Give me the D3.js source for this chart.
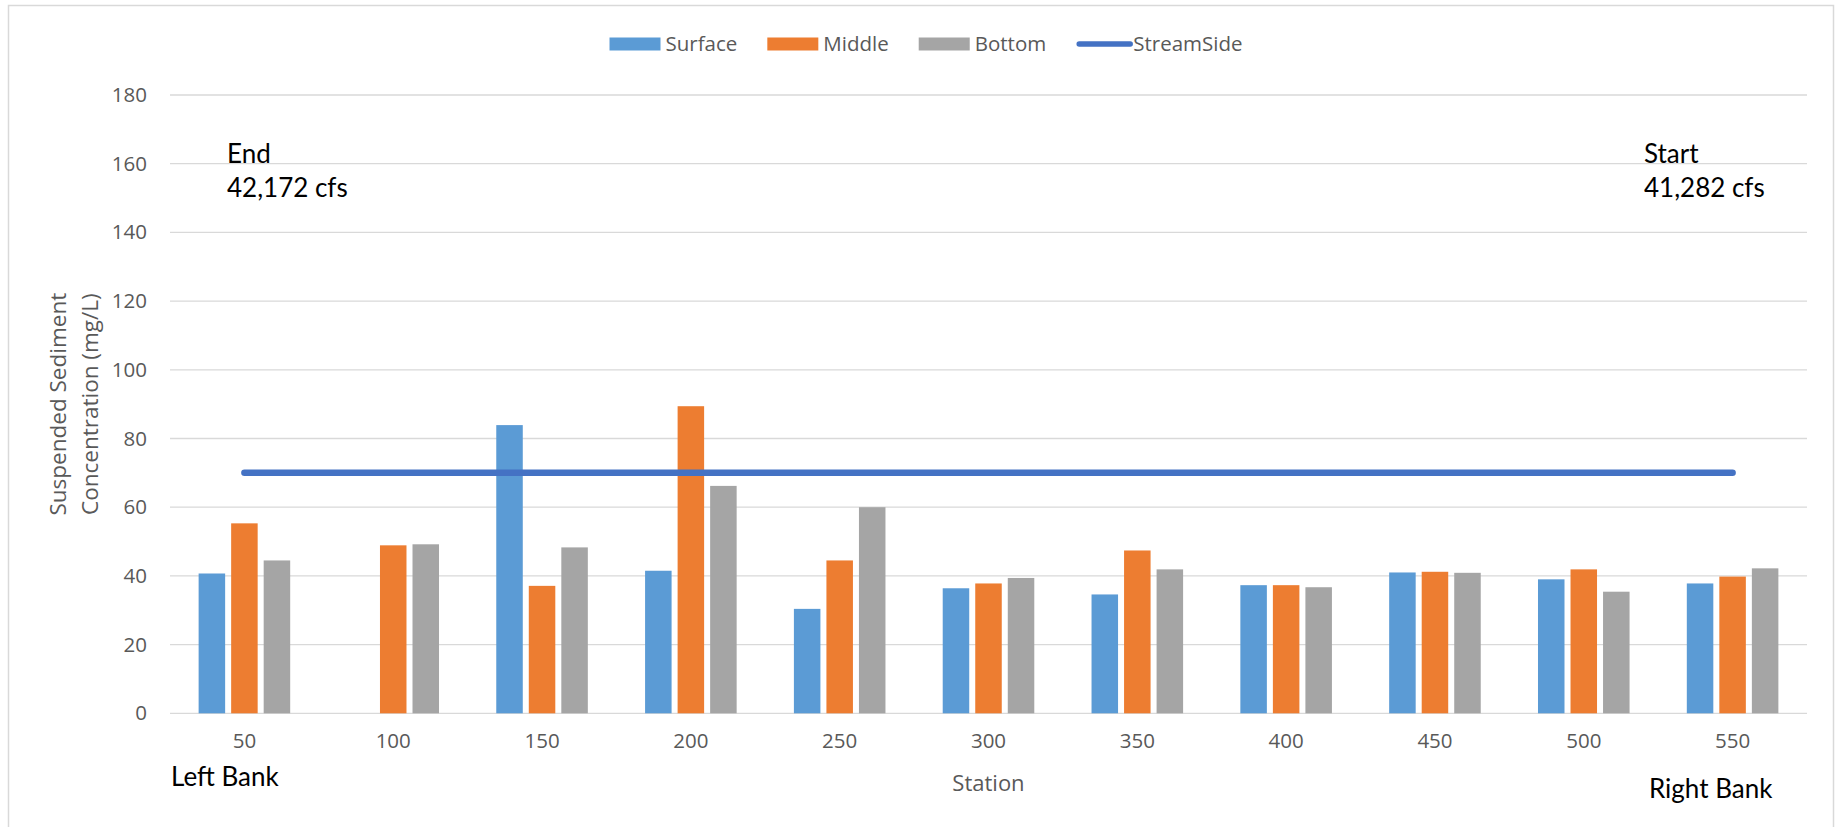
<!DOCTYPE html>
<html>
<head>
<meta charset="utf-8">
<script src="https://cdn.jsdelivr.net/npm/d3@7"></script>
<style>
  html, body { margin: 0; padding: 0; background: #fff; }
  svg { display: block; }
</style>
</head>
<body>
<div id="chart"></div>
<script>
// data
const stations = ["50", "100", "150", "200", "250", "300", "350", "400", "450", "500", "550"];
const seriesNames = ["Surface", "Middle", "Bottom"];
const surface = [40.7, null, 83.9, 41.5, 30.4, 36.4, 34.6, 37.3, 41.0, 39.0, 37.8];
const middle  = [55.3, 48.9, 37.1, 89.4, 44.5, 37.8, 47.4, 37.3, 41.2, 41.9, 39.8];
const bottom  = [44.5, 49.2, 48.3, 66.2, 60.0, 39.4, 41.9, 36.7, 40.9, 35.4, 42.2];
const streamSide = [70, 70, 70, 70, 70, 70, 70, 70, 70, 70, 70];
const yTicks = [0, 20, 40, 60, 80, 100, 120, 140, 160, 180];

const colors = { Surface: "#5B9BD5", Middle: "#ED7D31", Bottom: "#A5A5A5", StreamSide: "#4472C4" };

const width = 1843, height = 827;
const plot = { left: 170, right: 1807, top: 95, bottom: 713.3 };
const uiFont = "'Open Sans', 'Noto Sans', sans-serif";
const calFont = "Lato, 'Open Sans', sans-serif";

const svg = d3.select("#chart").append("svg")
  .attr("width", width)
  .attr("height", height);

// chart border
svg.append("rect")
  .attr("x", 8.5).attr("y", 5.5)
  .attr("width", 1825).attr("height", 840)
  .attr("fill", "#fff")
  .attr("stroke", "#d9d9d9")
  .attr("stroke-width", 1.5);

// scales
const x0 = d3.scaleBand()
  .domain(stations)
  .range([plot.left, plot.right])
  .paddingInner(0).paddingOuter(0);

const x1 = d3.scaleBand()
  .domain(seriesNames)
  .range([0, x0.bandwidth()])
  .paddingInner(0.185)
  .paddingOuter(0.88);

const y = d3.scaleLinear()
  .domain([0, 180])
  .range([plot.bottom, plot.top]);

// gridlines
svg.append("g")
  .selectAll("line")
  .data(yTicks)
  .join("line")
    .attr("x1", plot.left).attr("x2", plot.right)
    .attr("y1", d => y(d)).attr("y2", d => y(d))
    .attr("stroke", "#d9d9d9")
    .attr("stroke-width", 1.3);

// y axis labels
const yAxis = svg.append("g")
  .attr("transform", `translate(${plot.left},0)`)
  .call(d3.axisLeft(y).tickValues(yTicks).tickSize(0).tickPadding(23));
yAxis.select(".domain").remove();
yAxis.selectAll("text")
  .attr("fill", "#595959")
  .style("font-family", uiFont)
  .style("font-size", "20.5px");

// x axis labels
const xAxis = svg.append("g")
  .attr("transform", `translate(0,${plot.bottom})`)
  .call(d3.axisBottom(x0).tickSize(0).tickPadding(20));
xAxis.select(".domain").remove();
xAxis.selectAll("text")
  .attr("fill", "#595959")
  .style("font-family", uiFont)
  .style("font-size", "20.5px");

// bars
const table = stations.map((s, i) => ({
  station: s,
  values: [
    { key: "Surface", value: surface[i] },
    { key: "Middle",  value: middle[i] },
    { key: "Bottom",  value: bottom[i] }
  ]
}));

svg.append("g")
  .selectAll("g")
  .data(table)
  .join("g")
    .attr("transform", d => `translate(${x0(d.station)},0)`)
  .selectAll("rect")
  .data(d => d.values.filter(v => v.value != null))
  .join("rect")
    .attr("x", d => x1(d.key))
    .attr("width", x1.bandwidth())
    .attr("y", d => y(d.value))
    .attr("height", d => y(0) - y(d.value))
    .attr("fill", d => colors[d.key]);

// StreamSide line
const line = d3.line()
  .x((d, i) => x0(stations[i]) + x0.bandwidth() / 2)
  .y(d => y(d));

svg.append("path")
  .datum(streamSide)
  .attr("d", line)
  .attr("fill", "none")
  .attr("stroke", colors.StreamSide)
  .attr("stroke-width", 6.5)
  .attr("stroke-linecap", "round");

// axis titles
const yTitle = svg.append("text")
  .attr("transform", `translate(0,${(plot.top + plot.bottom) / 2}) rotate(-90)`)
  .attr("text-anchor", "middle")
  .attr("fill", "#595959")
  .style("font-family", uiFont)
  .style("font-size", "22.5px");
yTitle.append("tspan").attr("x", 0).attr("y", 66).text("Suspended Sediment");
yTitle.append("tspan").attr("x", 0).attr("y", 98).text("Concentration (mg/L)");

svg.append("text")
  .attr("x", (plot.left + plot.right) / 2)
  .attr("y", 791)
  .attr("text-anchor", "middle")
  .attr("fill", "#595959")
  .style("font-family", uiFont)
  .style("font-size", "22px")
  .text("Station");

// annotations
const notes = [
  { text: "End",        x: 227,  y: 162.5 },
  { text: "42,172 cfs", x: 227,  y: 197 },
  { text: "Start",      x: 1644, y: 162.5 },
  { text: "41,282 cfs", x: 1644, y: 197 },
  { text: "Left Bank",  x: 171,  y: 786 },
  { text: "Right Bank", x: 1649, y: 798 }
];
svg.append("g")
  .selectAll("text")
  .data(notes)
  .join("text")
    .attr("x", d => d.x)
    .attr("y", d => d.y)
    .attr("fill", "#000")
    .style("font-family", calFont)
    .style("font-size", "26px")
    .text(d => d.text);

// legend
const legendItems = ["Surface", "Middle", "Bottom", "StreamSide"];
const legend = svg.append("g");
let lx = 0;
legendItems.forEach(name => {
  const g = legend.append("g").attr("transform", `translate(${lx},0)`);
  if (name === "StreamSide") {
    g.append("line")
      .attr("x1", 3).attr("x2", 54)
      .attr("y1", 0).attr("y2", 0)
      .attr("stroke", colors[name])
      .attr("stroke-width", 5.5)
      .attr("stroke-linecap", "round");
  } else {
    g.append("rect")
      .attr("x", 0).attr("y", -6.5)
      .attr("width", 51).attr("height", 13)
      .attr("fill", colors[name]);
  }
  const tx = name === "StreamSide" ? 57 : 56;
  const t = g.append("text")
    .attr("x", tx)
    .attr("y", 0)
    .attr("dy", "0.35em")
    .attr("fill", "#595959")
    .style("font-family", uiFont)
    .style("font-size", "20.5px")
    .text(name);
  lx += tx + t.node().getComputedTextLength() + 30;
});
const legendWidth = lx - 30;
legend.attr("transform", `translate(${926 - legendWidth / 2},44)`);
</script>
</body>
</html>
